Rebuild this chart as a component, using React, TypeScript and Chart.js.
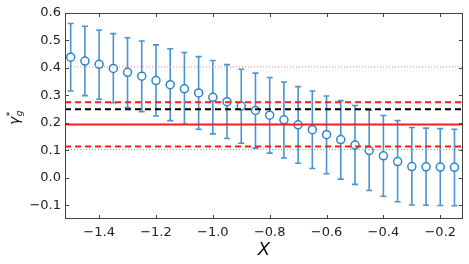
import React, { useEffect, useRef } from 'react';
import { Chart, registerables } from 'chart.js';

Chart.register(...registerables);

const X_VALUES = [-1.5, -1.45, -1.4, -1.35, -1.3, -1.25, -1.2, -1.15, -1.1, -1.05, -1.0, -0.95, -0.9, -0.85, -0.8, -0.75, -0.7, -0.65, -0.6, -0.55, -0.5, -0.45, -0.4, -0.35, -0.3, -0.25, -0.2, -0.15];
const Y_VALUES = [0.439, 0.425, 0.413, 0.398, 0.384, 0.37, 0.354, 0.339, 0.324, 0.309, 0.293, 0.277, 0.261, 0.245, 0.228, 0.211, 0.193, 0.175, 0.157, 0.139, 0.119, 0.099, 0.08, 0.059, 0.041, 0.04, 0.039, 0.038];
const Y_UPPER = [0.562, 0.552, 0.538, 0.525, 0.51, 0.498, 0.484, 0.47, 0.456, 0.441, 0.427, 0.412, 0.395, 0.381, 0.365, 0.349, 0.332, 0.316, 0.298, 0.281, 0.263, 0.246, 0.227, 0.208, 0.183, 0.181, 0.179, 0.177];
const Y_LOWER = [0.316, 0.299, 0.286, 0.273, 0.256, 0.241, 0.225, 0.208, 0.195, 0.177, 0.16, 0.143, 0.126, 0.108, 0.09, 0.072, 0.053, 0.034, 0.015, -0.005, -0.024, -0.046, -0.067, -0.087, -0.099, -0.1, -0.101, -0.102];

const X_TICKS = [-1.4, -1.2, -1.0, -0.8, -0.6, -0.4, -0.2];
const Y_TICKS = [-0.1, 0.0, 0.1, 0.2, 0.3, 0.4, 0.5, 0.6];

const H_SOLID_RED = [0.194];
const H_DASHED_RED = [0.275, 0.114];
const H_DASHED_BLACK = [0.25];
const H_DOTTED_RED = [0.404, 0.103];

const fmt = (v: number) => (v < -1e-9 ? '\u2212' : '') + Math.abs(v).toFixed(1);

const decorPlugin = {
  id: 'decor',
  beforeDatasetsDraw(chart: any) {
    const { ctx, chartArea, scales } = chart;
    const xs = scales.x;
    const ys = scales.y;
    ctx.save();
    ctx.beginPath();
    ctx.rect(chartArea.left, chartArea.top, chartArea.right - chartArea.left, chartArea.bottom - chartArea.top);
    ctx.clip();
    ctx.strokeStyle = '#4a94d2';
    ctx.lineWidth = 1.6;
    for (let i = 0; i < X_VALUES.length; i++) {
      const px = xs.getPixelForValue(X_VALUES[i]);
      const pTop = ys.getPixelForValue(Y_UPPER[i]);
      const pBot = ys.getPixelForValue(Y_LOWER[i]);
      ctx.beginPath();
      ctx.moveTo(px, pTop);
      ctx.lineTo(px, pBot);
      ctx.moveTo(px - 3, pTop);
      ctx.lineTo(px + 3, pTop);
      ctx.moveTo(px - 3, pBot);
      ctx.lineTo(px + 3, pBot);
      ctx.stroke();
    }
    ctx.restore();
  },
  afterDatasetsDraw(chart: any) {
    const { ctx, chartArea, scales } = chart;
    const xs = scales.x;
    const ys = scales.y;
    const L = chartArea.left, R = chartArea.right, T = chartArea.top, B = chartArea.bottom;
    ctx.save();
    const hline = (v: number, color: string, width: number, dash: number[]) => {
      const py = ys.getPixelForValue(v);
      ctx.beginPath();
      ctx.setLineDash(dash);
      ctx.strokeStyle = color;
      ctx.lineWidth = width;
      ctx.moveTo(L, py);
      ctx.lineTo(R, py);
      ctx.stroke();
    };
    H_DOTTED_RED.forEach((v) => hline(v, '#ff7f7f', 1, [1, 2]));
    H_DASHED_BLACK.forEach((v) => hline(v, '#000000', 2, [6, 4]));
    H_DASHED_RED.forEach((v) => hline(v, '#ff1a1a', 2, [6, 4]));
    H_SOLID_RED.forEach((v) => hline(v, '#ff1a1a', 2, []));
    ctx.setLineDash([]);

    // frame
    ctx.strokeStyle = '#444444';
    ctx.lineWidth = 1;
    ctx.strokeRect(L + 0.5, T + 0.5, R - L - 1, B - T - 1);
    // inward ticks
    ctx.beginPath();
    const tl = 4;
    X_TICKS.forEach((v) => {
      const px = Math.round(xs.getPixelForValue(v)) + 0.5;
      ctx.moveTo(px, B);
      ctx.lineTo(px, B - tl);
      ctx.moveTo(px, T);
      ctx.lineTo(px, T + tl);
    });
    Y_TICKS.forEach((v) => {
      const py = Math.round(ys.getPixelForValue(v)) + 0.5;
      ctx.moveTo(L, py);
      ctx.lineTo(L + tl, py);
      ctx.moveTo(R, py);
      ctx.lineTo(R - tl, py);
    });
    ctx.stroke();

    // axis titles
    ctx.fillStyle = '#111111';
    ctx.textAlign = 'center';
    ctx.textBaseline = 'alphabetic';
    ctx.font = 'italic 18px "DejaVu Sans"';
    ctx.fillText('X', (L + R) / 2, 255);

    ctx.save();
    ctx.translate(19, 125);
    ctx.rotate(-Math.PI / 2);
    ctx.textAlign = 'left';
    ctx.font = 'italic 14px "DejaVu Sans"';
    ctx.fillText('\u03b3', 0, 0);
    const gw = ctx.measureText('\u03b3').width;
    ctx.font = '9px "DejaVu Sans"';
    ctx.fillText('*', gw + 0.5, -6);
    ctx.font = 'italic 9px "DejaVu Sans"';
    ctx.fillText('g', gw + 0.5, 3);
    ctx.restore();

    ctx.restore();
  },
};

export default function App() {
  const canvasRef = useRef<HTMLCanvasElement | null>(null);
  useEffect(() => {
    document.body.style.margin = '0';
    const canvas = canvasRef.current;
    if (!canvas) return;
    const chart = new Chart(canvas, {
      type: 'scatter',
      data: {
        datasets: [
          {
            data: X_VALUES.map((x, i) => ({ x, y: Y_VALUES[i] })),
            pointStyle: 'circle',
            pointRadius: 4,
            pointBorderWidth: 1.5,
            pointBorderColor: '#2f86c6',
            pointBackgroundColor: '#ffffff',
            showLine: false,
          } as any,
        ],
      },
      options: {
        animation: false,
        responsive: false,
        maintainAspectRatio: false,
        layout: { padding: { top: 13, right: 6, left: 0, bottom: 0 } },
        plugins: { legend: { display: false }, tooltip: { enabled: false } },
        scales: {
          x: {
            type: 'linear',
            min: -1.52,
            max: -0.12,
            grid: { display: false, drawTicks: false },
            border: { display: false },
            afterBuildTicks: (scale: any) => {
              scale.ticks = X_TICKS.map((v) => ({ value: v }));
            },
            afterFit: (scale: any) => {
              scale.height = 45;
            },
            ticks: {
              padding: 6,
              color: '#222222',
              font: { family: 'DejaVu Sans', size: 13 },
              maxRotation: 0,
              autoSkip: false,
              callback: (v: any) => fmt(Number(v)),
            },
          },
          y: {
            type: 'linear',
            min: -0.15,
            max: 0.6,
            grid: { display: false, drawTicks: false },
            border: { display: false },
            afterBuildTicks: (scale: any) => {
              scale.ticks = Y_TICKS.map((v) => ({ value: v }));
            },
            afterFit: (scale: any) => {
              scale.width = 65;
            },
            ticks: {
              padding: 4,
              color: '#222222',
              font: { family: 'DejaVu Sans', size: 13 },
              autoSkip: false,
              callback: (v: any) => fmt(Number(v)),
            },
          },
        },
      },
      plugins: [decorPlugin],
    });
    return () => chart.destroy();
  }, []);
  return (
    <div style={{ width: 469, height: 264 }}>
      <canvas ref={canvasRef} width={469} height={264} style={{ width: 469, height: 264 }} />
    </div>
  );
}
